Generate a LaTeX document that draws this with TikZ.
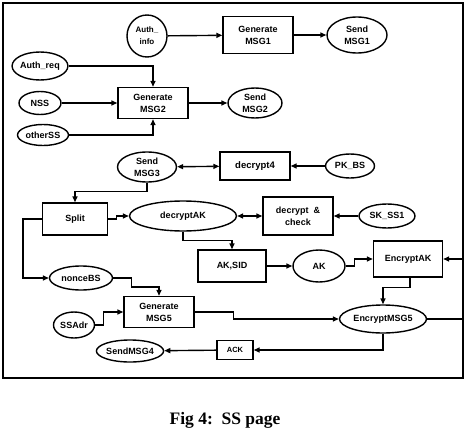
\documentclass[tikz,border=0pt]{standalone}
\usepackage{fontspec}
\setmainfont{Liberation Sans}
\newfontfamily\capfont{Liberation Serif}
\usetikzlibrary{shapes.geometric,arrows.meta}
\newcommand{\fsz}[1]{\fontsize{#1}{12}\selectfont\bfseries}
\tikzset{
  shp/.style={draw, line width=1.4pt, inner sep=0pt, align=center, font=\fsz{9}},
  box/.style={shp, rectangle},
  ell/.style={shp, ellipse},
  arr/.style={line width=1.4pt, -{Triangle[length=6pt,width=5pt]}},
  dbl/.style={line width=1.4pt, {Triangle[length=6pt,width=5pt]}-{Triangle[length=6pt,width=5pt]}},
}
\begin{document}
\begin{tikzpicture}[x=1pt,y=-1pt]
\useasboundingbox (0,0) rectangle (471,428);
\draw[line width=1.6pt] (3,3) rectangle (463,378);
% nodes
\node[ell, minimum width=40, minimum height=42, font=\fsz{8}] (authinfo) at (147,36) {Auth\_\\info};
\node[box, minimum width=70, minimum height=37] (genmsg1) at (258,35) {Generate\\MSG1};
\node[ell, minimum width=60, minimum height=36] (sendmsg1) at (357,35) {Send\\MSG1};
\node[ell, minimum width=54, minimum height=28] (authreq) at (40,66) {Auth\_req};
\node[ell, minimum width=42, minimum height=23] (nss) at (40,103) {NSS};
\node[ell, minimum width=51, minimum height=21] (otherss) at (43,135) {otherSS};
\node[box, minimum width=70, minimum height=31] (genmsg2) at (153,103) {Generate\\MSG2};
\node[ell, minimum width=54, minimum height=30] (sendmsg2) at (255,103) {Send\\MSG2};
\node[ell, minimum width=59, minimum height=30] (sendmsg3) at (147,167) {Send\\MSG3};
\node[box, minimum width=70, minimum height=28, font=\fsz{9.5}] (decrypt4) at (255,166) {decrypt4};
\node[ell, minimum width=49, minimum height=24] (pkbs) at (350,166) {PK\_BS};
\node[box, minimum width=65, minimum height=32] (split) at (75,219) {Split};
\node[ell, minimum width=107, minimum height=30] (decryptak) at (183,216) {decryptAK};
\node[box, minimum width=70, minimum height=38] (deccheck) at (298,216) {decrypt~~\&\\check};
\node[ell, minimum width=56, minimum height=24] (skss) at (387,216) {SK\_SS1};
\node[box, minimum width=68, minimum height=32] (aksid) at (232,266) {AK,SID};
\node[ell, minimum width=52, minimum height=32] (ak) at (319,266) {AK};
\node[box, minimum width=69, minimum height=36] (encryptak) at (408,259) {EncryptAK};
\node[ell, minimum width=63, minimum height=24] (noncebs) at (81,278) {nonceBS};
\node[box, minimum width=70, minimum height=31] (genmsg5) at (159,312) {Generate\\MSG5};
\node[ell, minimum width=41, minimum height=26] (ssadr) at (74,325) {SSAdr};
\node[ell, minimum width=87, minimum height=28] (encmsg5) at (383,319) {EncryptMSG5};
\node[box, minimum width=36, minimum height=19, font=\fsz{7.5}] (ack) at (235,350) {ACK};
\node[ell, minimum width=66, minimum height=22] (sendmsg4) at (130,351) {SendMSG4};
\node[anchor=base, font=\capfont\bfseries\fontsize{17.5}{20}\selectfont] (cap) at (225,424) {Fig 4:~~SS page};
% connectors
\draw[arr] (authinfo) -- (genmsg1);
\draw[arr] (genmsg1) -- (sendmsg1);
\draw[arr] (authreq.east) -| (genmsg2.north);
\draw[arr] (nss) -- (genmsg2);
\draw[arr] (otherss.east) -| (genmsg2.south);
\draw[arr] (genmsg2) -- (sendmsg2);
\draw[dbl] (sendmsg3) -- (decrypt4);
\draw[arr] (pkbs) -- (decrypt4);
\draw[arr] (sendmsg3.south) -- ++(0,9) -| (split.north);
\draw[arr] (split.east) -- ++(8,0) |- (decryptak.west);
\draw[dbl] (decryptak) -- (deccheck);
\draw[arr] (skss) -- (deccheck);
\draw[arr] (decryptak.south) -- ++(0,9) -| (aksid.north);
\draw[arr] (aksid) -- (ak);
\draw[arr] (ak.east) -- ++(9,0) |- (encryptak.west);
\draw[arr] (encmsg5.east) -- ++(35,0) |- (encryptak.east);
\draw[arr] ([xshift=2pt]encryptak.south) -- ++(0,10) -| (encmsg5.north);
\draw[arr] (encmsg5.south) |- (ack.east);
\draw[arr] (ack) -- (sendmsg4);
\draw[arr] (split.west) -- ++(-19,0) |- (noncebs.west);
\draw[arr] (noncebs.east) -- ++(18,0) -- ++(0,9) -| (genmsg5.north);
\draw[arr] (ssadr.east) -- ++(8,0) |- (genmsg5.west);
\draw[arr] (genmsg5.east) -- ++(39,0) |- (encmsg5.west);
\end{tikzpicture}
\end{document}
